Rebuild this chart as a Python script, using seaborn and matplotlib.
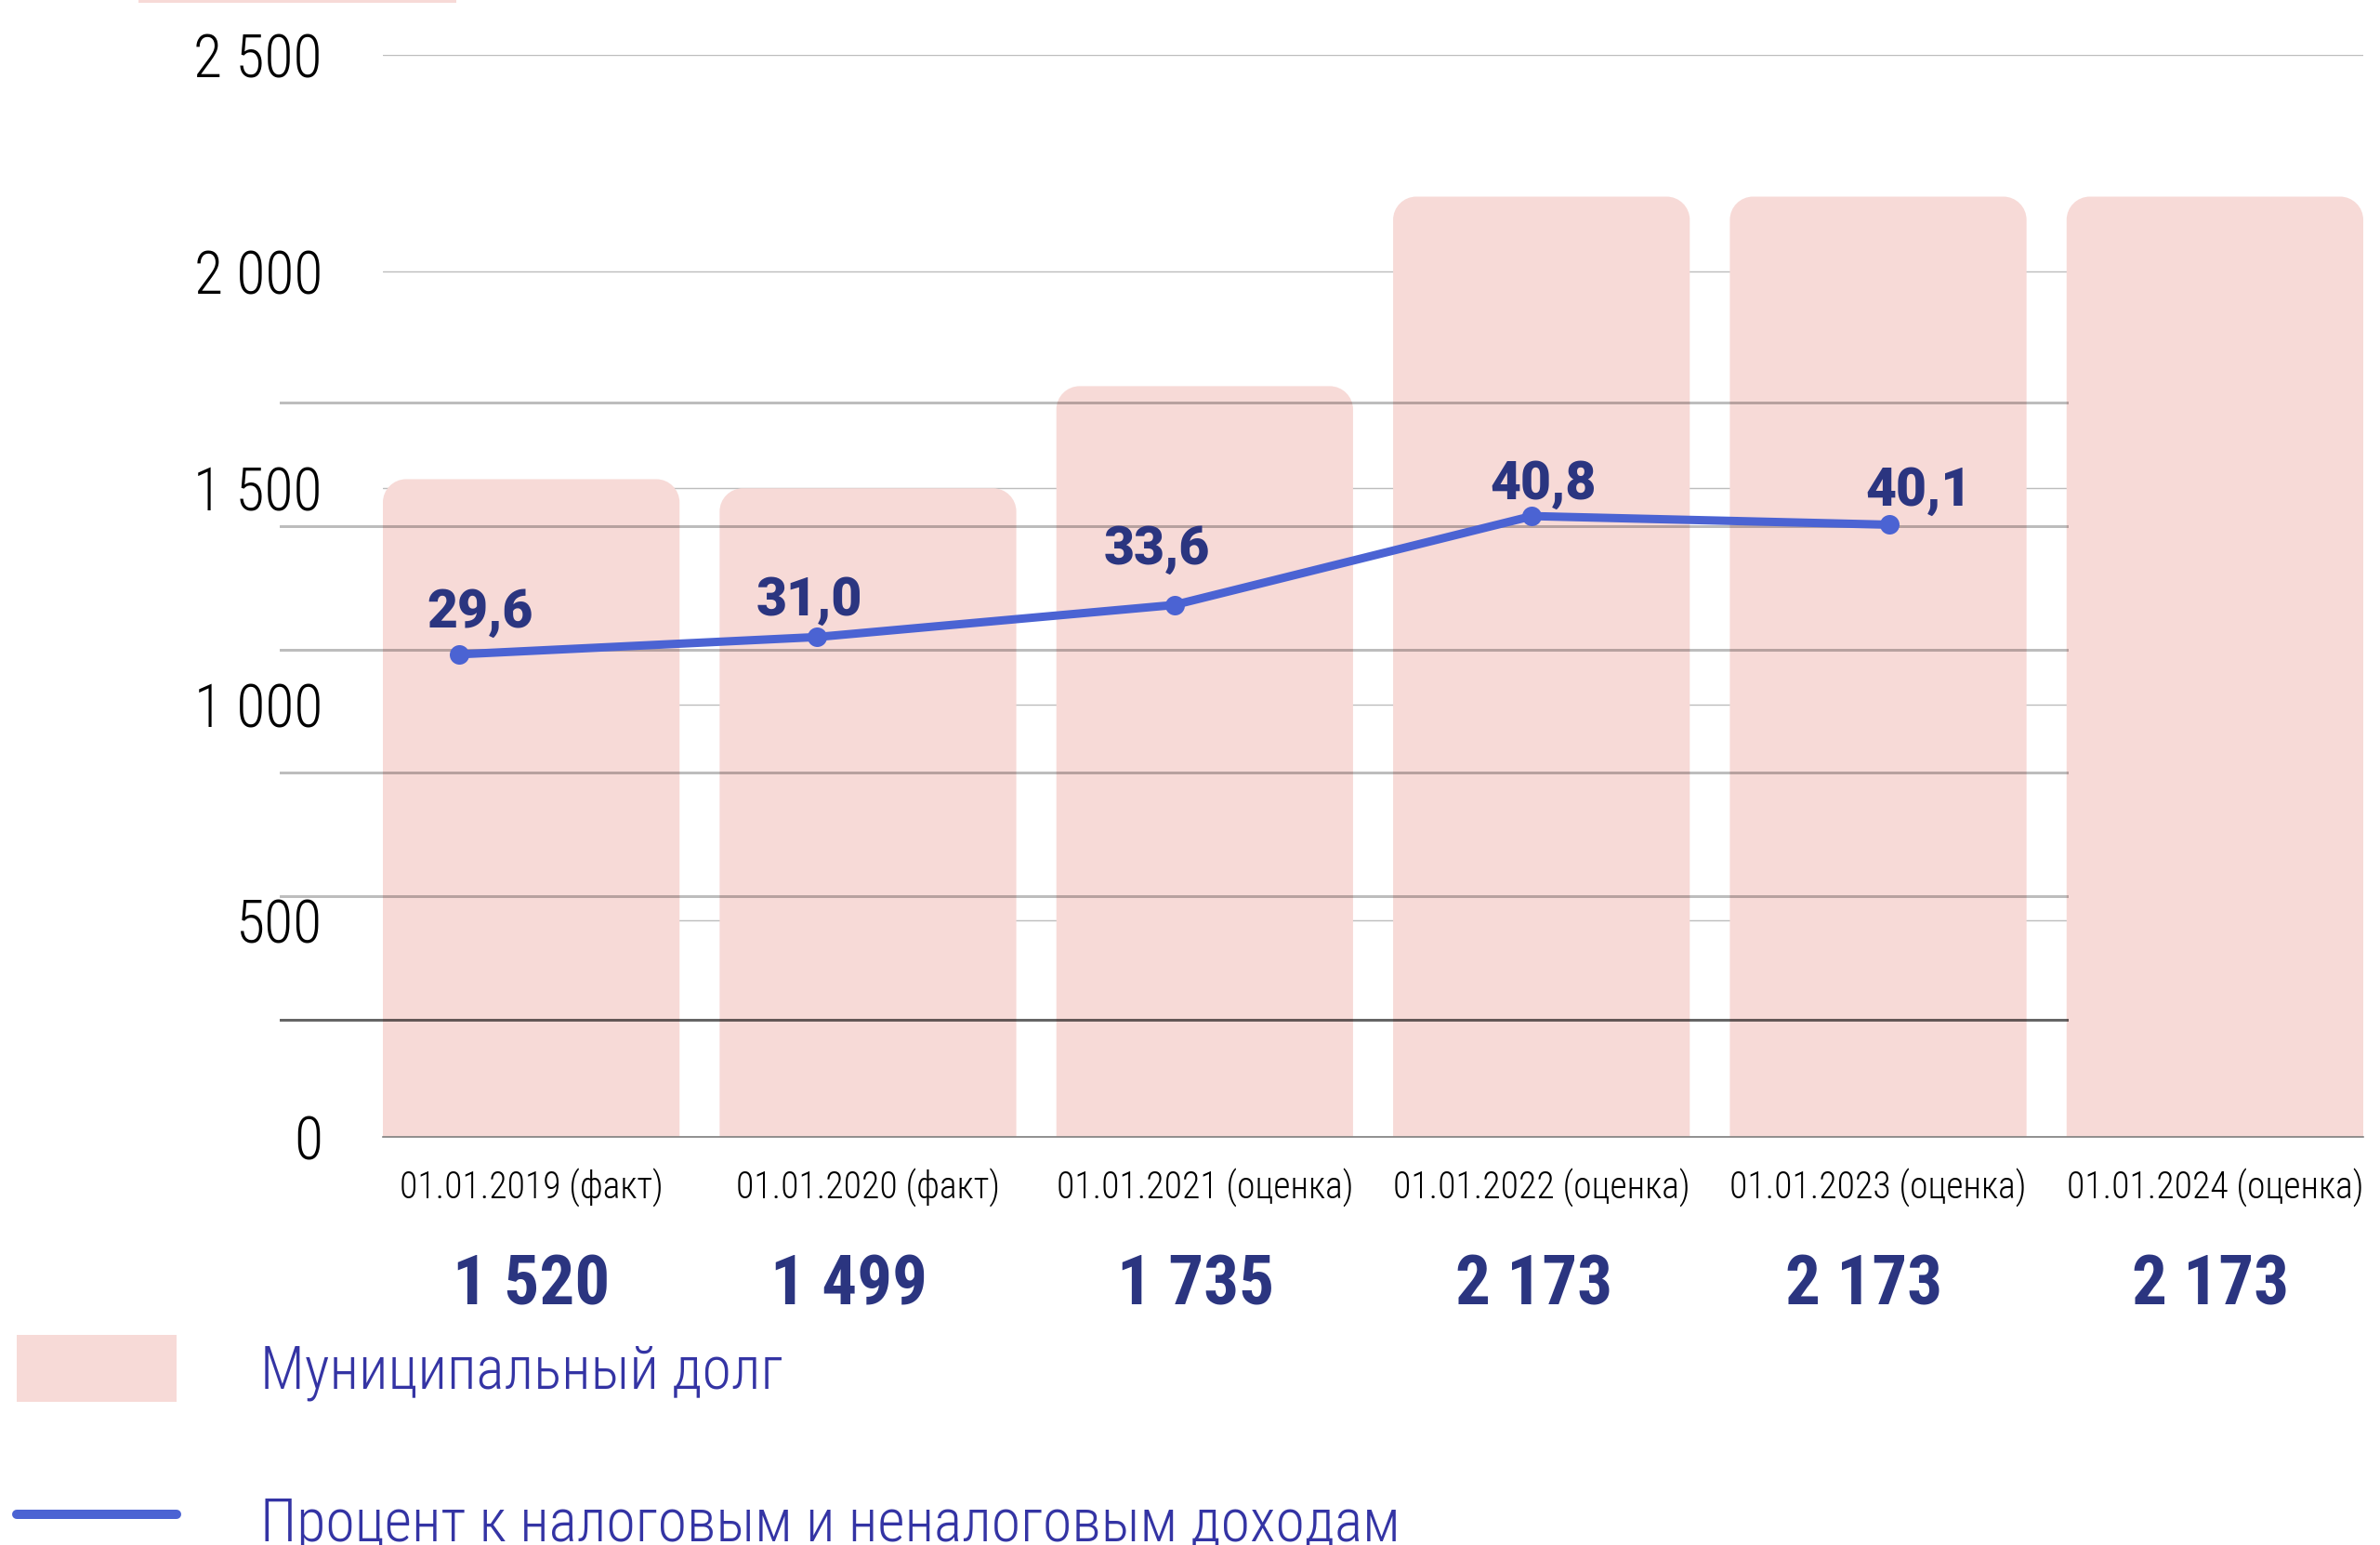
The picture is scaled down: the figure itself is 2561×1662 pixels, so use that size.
import os
import matplotlib
matplotlib.use("Agg")
import matplotlib.pyplot as plt
from matplotlib import font_manager
from matplotlib.path import Path
from matplotlib.patches import PathPatch, Patch, Rectangle
from matplotlib.lines import Line2D
import seaborn as sns

# ---- data -------------------------------------------------------------
dates = ["01.01.2019 (факт)", "01.01.2020 (факт)", "01.01.2021 (оценка)",
         "01.01.2022 (оценка)", "01.01.2023 (оценка)", "01.01.2024 (оценка)"]
debt = [1520, 1499, 1735, 2173, 2173, 2173]          # муниципальный долг
share_dates = dates[:5]
share = [29.6, 31.0, 33.6, 40.8, 40.1]                # % к доходам
debt_ticks = [0, 500, 1000, 1500, 2000, 2500]
share_ticks = [0, 10, 20, 30, 40, 50]
legend_labels = ["Муниципальный долг",
                 "Процент к налоговым и неналоговым доходам"]

# ---- style ------------------------------------------------------------
sns.set_theme(style="white")
plt.rcParams["font.family"] = ["Noto Sans", "DejaVu Sans"]

BAR = "#f7dad7"
LINE = "#4b63d3"
NAVY = "#2b3580"
LEGEND_TXT = "#3434a4"

W, H, DPI = 2561, 1662, 100
PX = 72 / DPI  # points per pixel

_files = {os.path.basename(p): p for p in font_manager.findSystemFonts()}


def pick_font(names, family, weight="normal", size=12):
    for n in names:
        if n in _files:
            fp = font_manager.FontProperties(fname=_files[n])
            fp.set_size(size)
            return fp
    return font_manager.FontProperties(family=family, weight=weight, size=size)


thin = ["NotoSans-ExtraCondensedLight.ttf", "NotoSans-CondensedLight.ttf",
        "NotoSans-ExtraCondensed.ttf", "RobotoCondensed-Light.ttf",
        "LiberationSansNarrow-Regular.ttf", "DejaVuSansCondensed.ttf"]
fp_ytick = pick_font(thin, ["Noto Sans", "DejaVu Sans"], "light", 46)
fp_xtick = pick_font(thin, ["Noto Sans", "DejaVu Sans"], "light", 28.5)
fp_legend = pick_font(["NotoSans-CondensedLight.ttf", "NotoSans-ExtraCondensedLight.ttf",
                       "RobotoCondensed-Light.ttf", "LiberationSansNarrow-Regular.ttf"],
                      ["Noto Sans", "DejaVu Sans"], "light", 46)
fp_value = pick_font(["NotoSans-CondensedBlack.ttf", "NotoSans-SemiCondensedBlack.ttf",
                      "NotoSans-CondensedExtraBold.ttf", "RobotoCondensed-Bold.ttf",
                      "Roboto-Black.ttf", "Lato-Black.ttf"],
                     ["Roboto", "DejaVu Sans"], "bold", 54)
fp_label = pick_font(["Roboto-Black.ttf", "Lato-Black.ttf", "NotoSans-Black.ttf",
                      "Roboto-Bold.ttf"], ["Roboto", "DejaVu Sans"], "bold", 41)


def fmt_thousands(v):
    return f"{v:,}".replace(",", " ")


def fmt_share(v):
    return f"{v:.1f}".replace(".", ",")


fig = plt.figure(figsize=(W / DPI, H / DPI), dpi=DPI, facecolor="white")

# ---- bars: municipal debt --------------------------------------------
ax_bar = fig.add_axes([412 / W, (H - 1223) / H, (2543 - 412) / W, (1223 - 59.3) / H])
ax_bar.set_zorder(1)
bar_width = 0.881
sns.barplot(x=dates, y=debt, ax=ax_bar, color=BAR, saturation=1,
            width=bar_width, linewidth=0)
ax_bar.set_xlim(-bar_width / 2, len(dates) - 1 + bar_width / 2)
ax_bar.set_ylim(0, 2500)
ax_bar.set_xlabel("")
ax_bar.set_ylabel("")
ax_bar.set_facecolor("none")
ax_bar.set_axisbelow(True)
ax_bar.yaxis.grid(True, color="#bdbdbd", lw=1.4 * PX)
ax_bar.xaxis.grid(False)
for s in ["left", "right", "top"]:
    ax_bar.spines[s].set_visible(False)
ax_bar.spines["bottom"].set_color("#7a7a7a")
ax_bar.spines["bottom"].set_linewidth(1.6 * PX)

ax_bar.set_yticks(debt_ticks)
ax_bar.set_yticklabels([fmt_thousands(t) for t in debt_ticks])
ax_bar.tick_params(axis="y", length=0, pad=65 * PX, colors="black")
ax_bar.tick_params(axis="x", length=0, pad=33 * PX, colors="black")
for lab in ax_bar.get_yticklabels():
    lab.set_fontproperties(fp_ytick)
for lab in ax_bar.get_xticklabels():
    lab.set_fontproperties(fp_xtick)

# replace plain rectangles with bars rounded at the top
p0, p1 = ax_bar.transData.transform([(0, 0), (1, 1)])
radius_px = 25
rx = radius_px / (p1[0] - p0[0])
ry = radius_px / (p1[1] - p0[1])
k = 0.5523
for p in list(ax_bar.patches):
    x0, y0 = p.get_x(), p.get_y()
    x1, y1 = x0 + p.get_width(), y0 + p.get_height()
    verts = [(x0, y0), (x0, y1 - ry),
             (x0, y1 - ry + k * ry), (x0 + rx - k * rx, y1), (x0 + rx, y1),
             (x1 - rx, y1),
             (x1 - rx + k * rx, y1), (x1, y1 - ry + k * ry), (x1, y1 - ry),
             (x1, y0), (x0, y0)]
    codes = [Path.MOVETO, Path.LINETO,
             Path.CURVE4, Path.CURVE4, Path.CURVE4,
             Path.LINETO,
             Path.CURVE4, Path.CURVE4, Path.CURVE4,
             Path.LINETO, Path.CLOSEPOLY]
    ax_bar.add_patch(PathPatch(Path(verts, codes), facecolor=BAR,
                               edgecolor="none", zorder=p.get_zorder()))
    p.set_visible(False)

# debt values under the category labels
value_dx = [0, -20, -10, -8, -15, -5]
for i, v in enumerate(debt):
    ax_bar.annotate(fmt_thousands(v), xy=(i, 0), xytext=(value_dx[i], -160),
                    textcoords="offset pixels", ha="center", va="center",
                    color=NAVY, fontproperties=fp_value, annotation_clip=False)

# ---- line: share of tax and non-tax revenue ---------------------------
ax_line = fig.add_axes([301 / W, (H - 1163.4) / H, (2226 - 301) / W, (1163.4 - 366.6) / H])
ax_line.set_zorder(2)
ax_line.patch.set_visible(False)
sns.lineplot(x=share_dates, y=share, ax=ax_line, sort=False, color=LINE,
             linewidth=9 * PX, marker="o", markersize=21 * PX, markeredgewidth=0)
ax_line.set_xlim(-0.5, len(share_dates) - 0.5)
ax_line.set_ylim(-5, 55)
ax_line.set_yticks(share_ticks)
ax_line.set_xlabel("")
ax_line.set_ylabel("")
ax_line.tick_params(length=0, labelleft=False, labelbottom=False)
ax_line.yaxis.grid(True, color="black", alpha=0.26, lw=3 * PX)
ax_line.xaxis.grid(False)
ax_line.get_ygridlines()[0].set_alpha(0.6)
for s in ax_line.spines.values():
    s.set_visible(False)

label_dx = [23, -8, -19, 12, 31]
label_dy = [29, 23, 44, 18, 21]
for i, v in enumerate(share):
    ax_line.annotate(fmt_share(v), xy=(i, v), xytext=(label_dx[i], label_dy[i]),
                     textcoords="offset pixels", ha="center", va="baseline",
                     color=NAVY, fontproperties=fp_label, annotation_clip=False)

# ---- legend -----------------------------------------------------------
fs_leg = fp_legend.get_size_in_points() / PX  # font size in pixels
hh = (72 / fs_leg - 0.245) / 0.65               # gives a 72 px tall swatch
handles = [Patch(facecolor=BAR, edgecolor="none"),
           Line2D([], [], color=LINE, lw=10 * PX)]
leg = fig.legend(handles, legend_labels, loc="upper left",
                 bbox_to_anchor=(18 / W, (H - 1436) / H),
                 frameon=False, prop=fp_legend, labelcolor=LEGEND_TXT,
                 handlelength=172 / fs_leg, handleheight=hh,
                 handletextpad=(280 - 190) / fs_leg, labelspacing=1.45,
                 borderpad=0, borderaxespad=0)

# thin pink strip along the top edge
fig.add_artist(Rectangle((149 / W, 1 - 3 / H), 342 / W, 3 / H,
                         transform=fig.transFigure, facecolor=BAR, edgecolor="none"))

fig.savefig("out.png", dpi=DPI, facecolor="white")
